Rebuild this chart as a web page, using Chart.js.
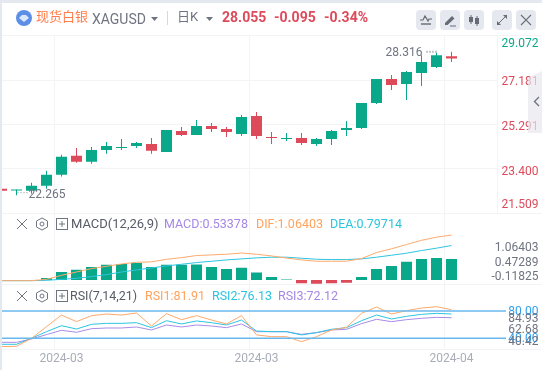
<!DOCTYPE html>
<html lang="zh">
<head>
<meta charset="UTF-8">
<title>XAGUSD</title>
<script src="https://cdn.jsdelivr.net/npm/chart.js"></script>
<style>
  html, body { margin: 0; padding: 0; background: #fff; }
  body { width: 542px; height: 370px; overflow: hidden; position: relative; font-family: Roboto, "Noto Sans CJK SC", sans-serif; }
  #c { position: absolute; left: 0; top: 0; }
  .t { position: absolute; white-space: nowrap; line-height: 16px; font-size: 13px; }
  .edgeTop { position: absolute; left: 0; top: 0; width: 542px; height: 3px; background: #e4e8ef; }
  .edgeLeft { position: absolute; left: 0; top: 0; width: 2px; height: 370px; background: #e4e8ef; }
  .btn { position: absolute; top: 10px; width: 20px; height: 20px; border-radius: 4px; background: #e6e8ef; }
  .btn svg { position: absolute; left: 2px; top: 2px; }
  .tab { position: absolute; left: 528px; top: 71px; width: 14px; height: 62px; background: rgba(232,232,238,.7); clip-path: polygon(0 7px, 100% 0, 100% 100%, 0 100%); }
  svg.ic { position: absolute; }
</style>
</head>
<body>
<canvas id="c" width="542" height="370"></canvas>

<div class="edgeTop"></div>
<div class="edgeLeft"></div>

<!-- top bar -->
<svg class="ic" style="left:16px;top:10px" width="16" height="16" viewBox="0 0 16 16">
  <circle cx="8" cy="8" r="8" fill="#5d8fe6"/>
  <path d="M3 8 L6 5 H10 L13 8 L8 12 Z" fill="#dbe7fb"/>
</svg>
<div class="t" style="left:36px;top:9px;font-size:13px;color:#ff7d4a">现货白银</div>
<div class="t" style="left:92px;top:11px;font-size:14px;color:#6f7480">XAGUSD</div>
<svg class="ic" style="left:151px;top:17px" width="7" height="4"><path d="M0 0H7L3.5 4Z" fill="#6f7480"/></svg>
<div style="position:absolute;left:167px;top:11px;width:1px;height:14px;background:#d5d8df"></div>
<div class="t" style="left:177px;top:9px;font-size:13px;color:#6f7480">日K</div>
<svg class="ic" style="left:206px;top:17px" width="7" height="4"><path d="M0 0H7L3.5 4Z" fill="#6f7480"/></svg>
<div class="t" style="left:222px;top:9px;font-size:14px;font-weight:700;color:#dd4a5a">28.055</div>
<div class="t" style="left:274px;top:9px;font-size:14px;font-weight:700;color:#dd4a5a">-0.095</div>
<div class="t" style="left:324px;top:9px;font-size:14px;font-weight:700;color:#dd4a5a">-0.34%</div>

<div class="btn" style="left:416px"><svg width="16" height="16" viewBox="0 0 16 16"><path d="M2 8H5L7 4L10 9L11 7H14" fill="none" stroke="#666b76" stroke-width="1.2"/><path d="M3 12H13" stroke="#666b76" stroke-width="1.4"/></svg></div>
<div class="btn" style="left:440px"><svg width="16" height="16" viewBox="0 0 16 16"><path d="M3 11L10 4L12.5 6.5L5.5 13H3Z" fill="#666b76"/><path d="M8 14H14" stroke="#666b76" stroke-width="1"/></svg></div>
<div class="btn" style="left:464px"><svg width="16" height="16" viewBox="0 0 16 16"><path d="M5 3V12M11 4V14" stroke="#666b76" stroke-width="1"/><rect x="3" y="5" width="4" height="5" fill="#666b76"/><rect x="9" y="6" width="4" height="6" fill="#666b76"/></svg></div>
<div class="btn" style="left:492px"><svg width="16" height="16" viewBox="0 0 16 16"><path d="M4 12L12 4" stroke="#666b76" stroke-width="1"/><path d="M9 3H13V7ZM3 9V13H7Z" fill="#666b76"/></svg></div>
<div class="btn" style="left:516px"><svg width="16" height="16" viewBox="0 0 16 16"><path d="M3 3L13 13M13 3L3 13" stroke="#666b76" stroke-width="1.1"/></svg></div>

<div class="tab"></div>
<svg class="ic" style="left:533px;top:96px" width="7" height="11"><path d="M6 1L1.5 5.5L6 10" fill="none" stroke="#6f7480" stroke-width="1.4"/></svg>

<!-- MACD legend -->
<svg class="ic" style="left:16px;top:218px" width="12" height="12"><path d="M1 1L11 11M11 1L1 11" stroke="#6f7480"/></svg>
<svg class="ic" style="left:35px;top:217px" width="14" height="14" viewBox="0 0 14 14"><path d="M7 1L12.5 4V10L7 13L1.5 10V4Z" fill="none" stroke="#6f7480"/><circle cx="7" cy="7" r="2" fill="none" stroke="#6f7480"/></svg>
<svg class="ic" style="left:56px;top:218px" width="12" height="12"><rect x=".5" y=".5" width="11" height="11" fill="none" stroke="#6f7480"/><path d="M6 3V9M3 6H9" stroke="#6f7480"/></svg>
<div class="t" style="left:71px;top:216px;font-size:13px;color:#565b66">MACD(12,26,9)</div>
<div class="t" style="left:164px;top:216px;font-size:12.5px;color:#a687e6">MACD:0.53378</div>
<div class="t" style="left:256px;top:216px;font-size:12.5px;color:#ffa35e">DIF:1.06403</div>
<div class="t" style="left:330px;top:216px;font-size:12.5px;color:#2cc4e0">DEA:0.79714</div>

<!-- RSI legend -->
<svg class="ic" style="left:16px;top:290px" width="12" height="12"><path d="M1 1L11 11M11 1L1 11" stroke="#6f7480"/></svg>
<svg class="ic" style="left:35px;top:289px" width="14" height="14" viewBox="0 0 14 14"><path d="M7 1L12.5 4V10L7 13L1.5 10V4Z" fill="none" stroke="#6f7480"/><circle cx="7" cy="7" r="2" fill="none" stroke="#6f7480"/></svg>
<svg class="ic" style="left:56px;top:290px" width="12" height="12"><rect x=".5" y=".5" width="11" height="11" fill="none" stroke="#6f7480"/><path d="M6 3V9M3 6H9" stroke="#6f7480"/></svg>
<div class="t" style="left:70px;top:288px;font-size:12.5px;color:#565b66">RSI(7,14,21)</div>
<div class="t" style="left:145px;top:288px;font-size:12.5px;color:#ffa35e">RSI1:81.91</div>
<div class="t" style="left:212px;top:288px;font-size:12.5px;color:#2cc4e0">RSI2:76.13</div>
<div class="t" style="left:278px;top:288px;font-size:12.5px;color:#a687e6">RSI3:72.12</div>

<script>
// x axis: one slot per trading day, only the month slots carry a label, last 3 are the empty right margin
const categories = ['', '', '', '', '2024-03', '', '', '', '', '', '', '', '', '', '', '', '', '2024-03', '', '', '', '', '', '', '', '', '', '', '', '', '2024-04', '', '', ''];

const opens  = [22.539, 22.468, 22.454, 22.666, 23.132, 23.937, 23.683, 24.191, 24.276, 24.361, 24.445, 24.106, 24.996, 24.827, 25.208, 25.081, 24.869, 25.632, 24.742, 24.657, 24.700, 24.445, 24.657, 25.039, 25.123, 26.183, 27.200, 26.988, 27.454, 27.708, 28.174];
const closes = [22.454, 22.510, 22.666, 23.132, 23.895, 23.683, 24.191, 24.361, 24.318, 24.488, 24.149, 25.039, 24.827, 25.208, 25.081, 24.954, 25.589, 24.784, 24.700, 24.700, 24.488, 24.657, 24.996, 25.123, 26.183, 27.200, 26.945, 27.496, 27.920, 28.216, 28.070];
const highs  = [22.539, 22.510, 22.793, 23.301, 23.979, 24.276, 24.318, 24.530, 24.657, 24.530, 24.700, 25.039, 25.166, 25.462, 25.335, 25.166, 25.674, 25.801, 24.954, 24.911, 24.911, 24.700, 25.039, 25.420, 26.183, 27.200, 27.369, 27.539, 28.216, 28.316, 28.358];
const lows   = [22.454, 22.265, 22.327, 22.539, 23.061, 23.640, 23.598, 24.022, 24.191, 24.276, 24.022, 24.106, 24.784, 24.827, 24.954, 24.742, 24.784, 24.657, 24.445, 24.572, 24.403, 24.361, 24.403, 24.784, 25.081, 26.140, 26.733, 26.310, 26.903, 27.666, 27.920];

const macdHist = [0, 0, 0, 0.048, 0.19, 0.24, 0.31, 0.36, 0.38, 0.40, 0.31, 0.36, 0.36, 0.365, 0.31, 0.26, 0.29, 0.175, 0.07, 0.01, -0.08, -0.087, -0.08, -0.063, 0.07, 0.26, 0.33, 0.43, 0.50, 0.52, 0.50];
const macdDif  = [-0.016, -0.016, -0.016, 0.016, 0.11, 0.19, 0.27, 0.325, 0.38, 0.42, 0.43, 0.49, 0.53, 0.58, 0.595, 0.61, 0.64, 0.61, 0.57, 0.52, 0.476, 0.444, 0.444, 0.444, 0.508, 0.65, 0.74, 0.84, 0.94, 1.016, 1.064];
const macdDea  = [-0.016, -0.016, -0.016, -0.008, 0.016, 0.04, 0.08, 0.127, 0.19, 0.238, 0.286, 0.333, 0.373, 0.413, 0.444, 0.476, 0.50, 0.524, 0.54, 0.54, 0.516, 0.492, 0.484, 0.484, 0.50, 0.54, 0.587, 0.635, 0.698, 0.754, 0.817];

const rsi1 = [27.8, 28.3, 40.0, 57.1, 74.1, 64.4, 73.2, 75.6, 74.1, 77.1, 58.0, 76.1, 67.3, 73.2, 66.8, 61.0, 73.2, 44.9, 42.4, 42.4, 35.1, 42.4, 52.2, 56.1, 76.6, 85.9, 75.6, 80.5, 84.4, 86.3, 81.91];
const rsi2 = [31.2, 31.2, 40.0, 49.7, 58.5, 53.6, 60.5, 61.9, 61.9, 62.9, 55.6, 65.8, 61.0, 65.4, 62.9, 59.5, 66.8, 50.7, 49.7, 49.7, 44.9, 48.3, 53.2, 55.6, 65.8, 74.1, 68.3, 72.2, 75.1, 76.6, 75.6];
const rsi3 = [34.1, 34.1, 39.0, 45.4, 51.7, 48.8, 54.1, 55.1, 55.1, 56.6, 52.2, 59.5, 56.6, 59.5, 58.0, 55.6, 61.0, 49.7, 49.7, 49.7, 45.8, 48.3, 52.2, 53.2, 61.5, 67.8, 64.4, 67.3, 69.3, 70.7, 70.2];

// grid values and tick labels. The site draws its labels a bit off the lines, so *TickAt says where each one sits
const priceGrid = [29.072, 27.181, 25.291, 23.400, 21.509];
const priceTickLabels = ['29.072', '27.181', '25.291', '23.400', '21.509'];
const priceTickAt = [28.755, 27.145, 25.251, 23.331, 21.916];
const macdTickLabels = ['1.06403', '0.47289', '-0.11825'];
const macdTickAt = [0.798, 0.452, 0.107];
const rsiTickLabels = ['80.00', '84.93', '62.68', '40.00', '40.42'];
const rsiTickAt = [80, 69.7, 52.9, 40.4, 35.3];
const rsiBands = [80, 40];

const UP = '#0aa88a';
const DOWN = '#dd4a5a';
const GRID = '#f3f4f6';
const candleColors = opens.map((o, i) => closes[i] >= o ? UP : DOWN);
const font = { family: 'Roboto, sans-serif', size: 12 };

function placeTicks(at) {
    return function (scale) {
        scale.ticks = at.map(v => ({ value: v }));
    };
}

function fixWidth(scale) {
    scale.width = 42;
}

function lineSet(label, data, color, axis) {
    return { type: 'line', label: label, data: data, borderColor: color, borderWidth: 1, pointRadius: 0, tension: 0, yAxisID: axis, order: 0 };
}

// panel separators, price grid, RSI bands and the high/low notes
const extras = {
    id: 'extras',
    beforeDatasetsDraw(chart) {
        const ctx = chart.ctx;
        const a = chart.chartArea;
        const price = chart.scales.price;
        ctx.save();
        ctx.strokeStyle = GRID;
        ctx.lineWidth = 1;
        ctx.beginPath();
        priceGrid.forEach(v => {
            const y = Math.round(price.getPixelForValue(v)) + 0.5;
            ctx.moveTo(2, y);
            ctx.lineTo(v === priceGrid[0] ? 542 : 497, y);
        });
        [213, 284, 349].forEach(y => {
            ctx.moveTo(2, y + 0.5);
            ctx.lineTo(542, y + 0.5);
        });
        ctx.moveTo(497.5, a.top);
        ctx.lineTo(497.5, price.bottom);
        ctx.stroke();
        ctx.restore();
    },
    afterDatasetsDraw(chart) {
        const ctx = chart.ctx;
        const x = chart.scales.x;
        const price = chart.scales.price;
        const rsi = chart.scales.rsi;
        ctx.save();
        ctx.strokeStyle = '#68b8ee';
        ctx.lineWidth = 1.5;
        rsiBands.forEach(v => {
            const y = rsi.getPixelForValue(v);
            ctx.beginPath();
            ctx.moveTo(2, y);
            ctx.lineTo(506, y);
            ctx.stroke();
        });
        ctx.font = '12px Roboto, sans-serif';
        ctx.fillStyle = '#6f7480';
        ctx.textBaseline = 'middle';
        // highest high sits left of its candle, lowest low right of it
        const hi = 29;
        const lo = lows.indexOf(Math.min(...lows));
        ctx.textAlign = 'right';
        ctx.fillText(highs[hi].toFixed(3), x.getPixelForValue(hi) - 14, price.getPixelForValue(highs[hi]) + 0.5);
        ctx.textAlign = 'left';
        ctx.fillText(lows[lo].toFixed(3), x.getPixelForValue(lo) + 12, price.getPixelForValue(lows[lo]) - 0.5);
        ctx.fillStyle = '#8a8e99';
        for (let k = 0; k < 4; k++) {
            ctx.fillRect(x.getPixelForValue(hi) - 10 + k * 3, price.getPixelForValue(highs[hi]) - 2, 1, 2);
            ctx.fillRect(x.getPixelForValue(lo) + 1 + k * 3, price.getPixelForValue(lows[lo]) - 3, 1, 1);
        }
        ctx.restore();
    }
};

new Chart(document.getElementById('c'), {
    data: {
        labels: categories,
        datasets: [
            { type: 'bar', label: 'wick', data: lows.map((l, i) => [l, highs[i]]), backgroundColor: candleColors, barThickness: 1, grouped: false, inflateAmount: 0, yAxisID: 'price', order: 2 },
            { type: 'bar', label: 'body', data: opens.map((o, i) => [o, closes[i]]), backgroundColor: candleColors, barThickness: 11, grouped: false, inflateAmount: 0, yAxisID: 'price', order: 1 },
            { type: 'bar', label: 'MACD', data: macdHist, backgroundColor: macdHist.map(v => v >= 0 ? UP : DOWN), barThickness: 11, grouped: false, inflateAmount: 0, yAxisID: 'macd', order: 1 },
            lineSet('DIF', macdDif, '#ffa96b', 'macd'),
            lineSet('DEA', macdDea, '#2cc4e0', 'macd'),
            lineSet('RSI1', rsi1, '#ffa96b', 'rsi'),
            lineSet('RSI2', rsi2, '#2cc4e0', 'rsi'),
            lineSet('RSI3', rsi3, '#a98be8', 'rsi')
        ]
    },
    options: {
        responsive: false,
        animation: false,
        layout: { padding: { left: 1.5, top: 35, right: 3.5, bottom: 0 } },
        plugins: { legend: { display: false }, tooltip: { enabled: false } },
        scales: {
            x: {
                type: 'category',
                offset: false,
                border: { display: false },
                // ticks.padding pushes the plot's left edge in, so the label gap comes from an invisible tick
                grid: { tickLength: 3, tickColor: 'transparent', color: c => c.tick && c.tick.label ? GRID : 'transparent' },
                ticks: { autoSkip: false, maxRotation: 0, color: '#a9adb8', font: font, padding: 0 },
                afterFit: s => { s.height = 21; }
            },
            price: {
                type: 'linear', position: 'right', stack: 'panes', stackWeight: 178, weight: 1,
                min: 21.509, max: 29.072,
                border: { display: false }, grid: { display: false },
                afterBuildTicks: placeTicks(priceTickAt),
                afterFit: fixWidth,
                ticks: { autoSkip: false, crossAlign: 'far', labelOffset: 2, font: font, color: c => c.index === 0 ? UP : DOWN, callback: (v, i) => priceTickLabels[i] }
            },
            macd: {
                type: 'linear', position: 'right', stack: 'panes', stackWeight: 71, weight: 2,
                min: -0.095, max: 1.588,
                border: { display: false }, grid: { display: false },
                afterBuildTicks: placeTicks(macdTickAt),
                // the big tick padding below must not leak into the chart layout
                afterFit: s => { fixWidth(s); s.paddingTop = 0; s.paddingBottom = 0; },
                // these labels are wider than the axis, mirror stops them being clipped at its left edge
                ticks: { autoSkip: false, mirror: true, padding: 42, labelOffset: 2, font: font, color: '#6f7480', callback: (v, i) => macdTickLabels[i] }
            },
            rsi: {
                type: 'linear', position: 'right', stack: 'panes', stackWeight: 65, weight: 3,
                min: 24.3, max: 119.6,
                border: { display: false }, grid: { display: false },
                afterBuildTicks: placeTicks(rsiTickAt),
                afterFit: fixWidth,
                ticks: { autoSkip: false, crossAlign: 'far', labelOffset: 1, font: font, color: c => rsiTickLabels[c.index].endsWith('.00') ? '#2f9ff0' : '#6f7480', callback: (v, i) => rsiTickLabels[i] }
            }
        }
    },
    plugins: [extras]
});
</script>
</body>
</html>
